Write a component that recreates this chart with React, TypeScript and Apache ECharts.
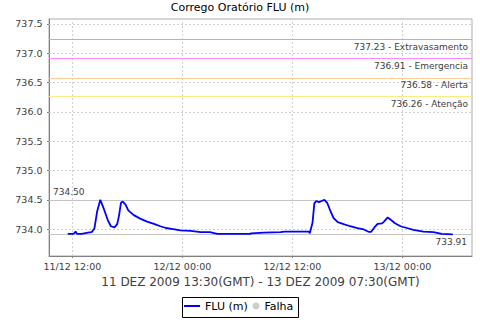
import React, { useEffect, useRef } from 'react';
import * as echarts from 'echarts';

// time in hours since 11/12/2009 00:00 (local axis time)
const hours = [11.5, 12.0, 12.2, 12.35, 12.5, 13.0, 13.3, 13.7, 14.1, 14.4, 14.7, 15.05, 15.4, 15.85, 16.2, 16.6, 16.9, 17.1, 17.3, 17.5, 17.8, 18.1, 18.7, 19.4, 20.15, 20.9, 21.6, 22.2, 23.0, 23.8, 24.9, 26.0, 27.0, 27.8, 31.4, 31.5, 32.9, 34.7, 35.2, 36.9, 37.8, 37.9, 38.2, 38.4, 38.6, 38.9, 39.2, 39.5, 39.8, 40.15, 40.5, 40.95, 41.6, 42.3, 43.1, 43.8, 44.3, 44.6, 44.95, 45.3, 45.8, 46.0, 46.4, 46.7, 47.2, 47.8, 48.5, 49.2, 50.3, 51.4, 52.3, 53.5];
const levels = [733.92, 733.92, 733.93, 733.96, 733.92, 733.92, 733.93, 733.94, 733.95, 734.01, 734.30, 734.50, 734.36, 734.16, 734.05, 734.03, 734.09, 734.24, 734.45, 734.47, 734.42, 734.32, 734.24, 734.18, 734.13, 734.09, 734.05, 734.02, 734.00, 733.98, 733.97, 733.95, 733.95, 733.92, 733.92, 733.93, 733.94, 733.95, 733.96, 733.96, 733.96, 733.93, 734.11, 734.44, 734.48, 734.46, 734.48, 734.50, 734.45, 734.31, 734.19, 734.12, 734.085, 734.05, 734.02, 733.995, 733.955, 733.955, 734.03, 734.09, 734.10, 734.13, 734.20, 734.165, 734.10, 734.05, 734.02, 733.99, 733.96, 733.95, 733.92, 733.91];

const xTicks = [12, 24, 36, 48];
const xTickLabels = ['11/12 12:00', '12/12 00:00', '12/12 12:00', '13/12 00:00'];
const yTicks = [734.0, 734.5, 735.0, 735.5, 736.0, 736.5, 737.0, 737.5];

const thresholdValues = [737.23, 736.91, 736.58, 736.26];
const thresholdNames = ['Extravasamento', 'Emergencia', 'Alerta', 'Atenção'];
const thresholdColors = ['#f29a9a', '#ff88ff', '#fccb98', '#fbec84'];

const maxValue = 734.5;
const minValue = 733.91;

const titleText = 'Corrego Oratório FLU (m)';
const periodText = '11 DEZ 2009 13:30(GMT) - 13 DEZ 2009 07:30(GMT)';
const seriesName = 'FLU (m)';
const failName = 'Falha';

const FONT = 'DejaVu Sans';

export default function App() {
  const ref = useRef<HTMLDivElement>(null);
  useEffect(() => {
    const chart = echarts.init(ref.current!, null, { renderer: 'svg' });
    const lineData = hours.map((h, i) => [h, levels[i]]);
    const option: any = {
      animation: false,
      backgroundColor: '#ffffff',
      title: {
        text: titleText,
        left: 'center',
        top: 2,
        padding: 0,
        textStyle: { fontSize: 11, fontWeight: 'normal', color: '#000', fontFamily: FONT },
      },
      grid: {
        left: 49, top: 19, right: 8, bottom: 64,
        show: true, borderColor: '#ababab', borderWidth: 1, backgroundColor: '#fff',
      },
      xAxis: {
        type: 'value',
        min: 9.45,
        max: 55.6,
        name: periodText,
        nameLocation: 'middle',
        nameGap: 19,
        nameTextStyle: { fontSize: 12, color: '#404040', fontFamily: FONT },
        axisLine: { lineStyle: { color: '#808080' } },
        axisTick: { show: true, length: 2, customValues: xTicks, lineStyle: { color: '#808080' } },
        axisLabel: {
          customValues: xTicks,
          margin: 5,
          fontSize: 9.5,
          color: '#404040',
          fontFamily: FONT,
          formatter: (v: number) => xTickLabels[xTicks.indexOf(v)] ?? '',
        },
        splitLine: { show: false },
      },
      yAxis: {
        type: 'value',
        min: 733.543,
        max: 737.581,
        axisLine: { show: true, lineStyle: { color: '#808080' } },
        axisTick: { show: true, length: 2, customValues: yTicks, lineStyle: { color: '#808080' } },
        axisLabel: {
          customValues: yTicks,
          margin: 6.5,
          fontSize: 9.5,
          color: '#404040',
          fontFamily: FONT,
          formatter: (v: number) => v.toFixed(1),
        },
        splitLine: { show: false },
      },
      legend: [
        {
          data: [{ name: seriesName, icon: 'rect' }],
          left: 184, top: 300.5, padding: 0,
          itemWidth: 16, itemHeight: 2,
          selectedMode: false,
          textStyle: { fontSize: 11, color: '#000', fontFamily: FONT },
        },
        {
          data: [{ name: failName, icon: 'circle' }],
          left: 252.5, top: 300.5, padding: 0,
          itemWidth: 7, itemHeight: 7,
          selectedMode: false,
          textStyle: { fontSize: 11, color: '#000', fontFamily: FONT },
        },
      ],
      graphic: [
        {
          type: 'rect',
          shape: { x: 182.5, y: 297.5, width: 116, height: 20 },
          style: { fill: 'none', stroke: '#000', lineWidth: 1 },
          silent: true,
        },
      ],
      series: [
        {
          name: 'gridHelper',
          type: 'line',
          data: lineData,
          symbol: 'none',
          silent: true,
          z: 1,
          lineStyle: { opacity: 0, width: 0 },
          markLine: {
            z: 1,
            silent: true,
            symbol: ['none', 'none'],
            label: { show: false },
            lineStyle: { color: '#d0d0d0', type: [2, 2], width: 1 },
            data: [
              ...yTicks.map((v) => ({ yAxis: v })),
              ...xTicks.map((h) => ({ xAxis: h })),
            ],
          },
        },
        {
          name: 'markHelper',
          type: 'line',
          data: lineData,
          symbol: 'none',
          silent: true,
          z: 1,
          lineStyle: { opacity: 0, width: 0 },
          markLine: {
            z: 1.5,
            silent: true,
            symbol: ['none', 'none'],
            label: { fontSize: 9, color: '#404040', fontFamily: FONT },
            data: [
              ...thresholdValues.map((v, i) => ({
                yAxis: v,
                lineStyle: { color: thresholdColors[i], type: 'solid', width: 1 },
                label: {
                  show: true,
                  position: 'insideEndBottom',
                  distance: [4, 3],
                  formatter: `${v.toFixed(2)} - ${thresholdNames[i]}`,
                },
              })),
              {
                yAxis: maxValue,
                lineStyle: { color: '#c4c4c4', type: 'solid', width: 1 },
                label: { show: true, position: 'insideStartTop', distance: [4, 3], formatter: maxValue.toFixed(2) },
              },
              {
                yAxis: minValue,
                lineStyle: { color: '#c4c4c4', type: 'solid', width: 1 },
                label: { show: true, position: 'insideEndBottom', distance: [5, 3], formatter: minValue.toFixed(2) },
              },
            ],
          },
        },
        {
          name: seriesName,
          type: 'line',
          data: lineData,
          symbol: 'none',
          z: 3,
          color: '#0000ff',
          lineStyle: { color: '#0000ff', width: 1.8 },
        },
        {
          name: failName,
          type: 'scatter',
          data: [],
          color: '#c0c0c0',
          itemStyle: { color: '#c0c0c0' },
        },
      ],
    };
    chart.setOption(option);
    return () => chart.dispose();
  }, []);
  return (
    <div
      ref={ref}
      style={{ position: 'absolute', left: 0, top: 0, width: 480, height: 320, background: '#fff' }}
    />
  );
}
